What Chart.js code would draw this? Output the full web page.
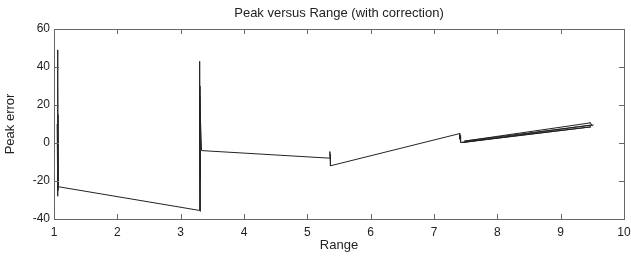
<!DOCTYPE html>
<html>
<head>
<meta charset="utf-8">
<script src="https://cdn.jsdelivr.net/npm/chart.js@4/dist/chart.umd.min.js"></script>
<style>
  html, body { margin: 0; padding: 0; background: #fff; }
  #wrap { width: 631px; height: 256px; }
</style>
</head>
<body>
<div id="wrap"><canvas id="peakChart"></canvas></div>
<script>
// range values (x) and peak error (y)
const rangeVals = [
  1.05, 1.055, 1.06, 1.058, 1.062, 1.06, 1.065, 1.063, 1.066,
  3.30, 3.295, 3.305, 3.30, 3.31, 3.305, 3.31, 3.30, 3.315, 3.33,
  5.36, 5.355, 5.365, 5.36, 5.37,
  7.41, 7.405, 7.415, 7.42,
  9.48, 7.44, 9.50, 7.48, 9.45, 9.46, 9.50, 9.52
];
const peakErr = [
  10, 49, -28, 40, -20, 30, -25, 15, -23,
  -35.5, 43, -30, 38, -20, 30, -36, 25, 10, -4,
  -8, -4.5, -11, -6, -12,
  5, 2, 4, 0.3,
  8.5, 0.2, 9.5, 1, 10.5, 11, 9, 9.6
];
const xTicks = [1, 2, 3, 4, 5, 6, 7, 8, 9, 10];
const yTicks = [-40, -20, 0, 20, 40, 60];

const points = rangeVals.map((r, i) => ({ x: r, y: peakErr[i] }));

// MATLAB-like box with inward ticks
const boxPlugin = {
  id: "box",
  afterDraw(chart) {
    const { ctx, chartArea, scales } = chart;
    const { left, right, top, bottom } = chartArea;
    ctx.save();
    ctx.strokeStyle = "#666";
    ctx.lineWidth = 1;
    ctx.strokeRect(left + 0.5, top + 0.5, right - left, bottom - top);
    ctx.beginPath();
    xTicks.forEach((t) => {
      const px = Math.round(scales.x.getPixelForValue(t)) + 0.5;
      ctx.moveTo(px, bottom); ctx.lineTo(px, bottom - 5);
      ctx.moveTo(px, top); ctx.lineTo(px, top + 5);
    });
    yTicks.forEach((t) => {
      const py = Math.round(scales.y.getPixelForValue(t)) + 0.5;
      ctx.moveTo(left, py); ctx.lineTo(left + 5, py);
      ctx.moveTo(right, py); ctx.lineTo(right - 5, py);
    });
    ctx.stroke();
    ctx.restore();
  }
};

const fam = "'Liberation Sans', Arial, sans-serif";
const tickFont = { family: fam, size: 12 };

new Chart(document.getElementById("peakChart"), {
  type: "scatter",
  data: {
    datasets: [{
      data: points,
      showLine: true,
      borderColor: "#222",
      borderWidth: 1,
      pointRadius: 0,
      tension: 0
    }]
  },
  options: {
    responsive: true,
    maintainAspectRatio: false,
    animation: false,
    layout: { padding: { right: 7 } },
    plugins: {
      legend: { display: false },
      tooltip: { enabled: false },
      title: {
        display: true,
        fullSize: false,
        text: "Peak versus Range (with correction)",
        color: "#222",
        font: { family: fam, size: 13, weight: "normal" },
        padding: { top: 6, bottom: 7.4 }
      }
    },
    scales: {
      x: {
        type: "linear",
        min: 1, max: 10,
        afterBuildTicks: (s) => { s.ticks = xTicks.map((v) => ({ value: v })); },
        afterFit: (s) => { s.height = 37; s.paddingLeft = 0; s.paddingRight = 0; },
        grid: { display: false, drawTicks: false },
        border: { display: false },
        ticks: { color: "#222", font: tickFont, padding: 6, maxRotation: 0 },
        title: {
          display: true, text: "Range", color: "#222",
          font: { family: fam, size: 13 },
          padding: { top: 0, bottom: 3 }
        }
      },
      y: {
        min: -40, max: 60,
        afterBuildTicks: (s) => { s.ticks = yTicks.map((v) => ({ value: v })); },
        afterFit: (s) => { s.width = 54; s.paddingTop = 0; s.paddingBottom = 0; },
        grid: { display: false, drawTicks: false },
        border: { display: false },
        ticks: { color: "#222", font: tickFont, padding: 4 },
        title: {
          display: true, text: "Peak error", color: "#222",
          font: { family: fam, size: 13 },
          padding: { top: 3, bottom: 0 }
        }
      }
    }
  },
  plugins: [boxPlugin]
});
</script>
</body>
</html>
